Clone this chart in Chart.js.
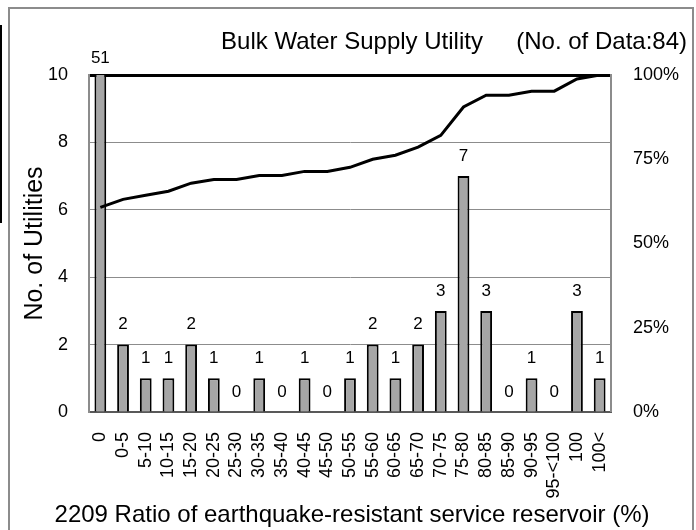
<!DOCTYPE html>
<html>
<head>
<meta charset="utf-8">
<script src="https://cdn.jsdelivr.net/npm/chart.js@4.4.1/dist/chart.umd.min.js"></script>
<style>
  body { margin: 0; background: #fff; }
  #wrap { position: relative; width: 696px; height: 530px; overflow: hidden; }
  #frame { position: absolute; left: 8px; top: 7px; width: 682px; height: 560px; border: 2px solid #8c8c8c; }
  #edge { position: absolute; left: 0; top: 25px; width: 2px; height: 198px; background: #000; }
  canvas { position: absolute; left: 0; top: 0; }
</style>
</head>
<body>
<div id="wrap">
  <div id="edge"></div>
  <div id="frame"></div>
  <canvas id="chart" width="696" height="530"></canvas>
</div>
<script>
// Ratio classes (%) and number of utilities in each
const categories = ['0', '0-5', '5-10', '10-15', '15-20', '20-25', '25-30', '30-35', '35-40', '40-45',
  '45-50', '50-55', '55-60', '60-65', '65-70', '70-75', '75-80', '80-85', '85-90', '90-95',
  '95-<100', '100', '100<'];
const utilityCounts = [51, 2, 1, 1, 2, 1, 0, 1, 0, 1, 0, 1, 2, 1, 2, 3, 7, 3, 0, 1, 0, 3, 1];
// cumulative share (%)
const cumulativePercent = [60.7, 63.1, 64.3, 65.5, 67.9, 69.0, 69.0, 70.2, 70.2, 71.4, 71.4, 72.6,
  75.0, 76.2, 78.6, 82.1, 90.5, 94.0, 94.0, 95.2, 95.2, 98.8, 100];
const countTicks = [0, 2, 4, 6, 8, 10];
const percentTicks = [0, 25, 50, 75, 100];
const xTitle = '2209 Ratio of earthquake-resistant service reservoir (%)';

const FONT = '"Liberation Sans", Arial, sans-serif';

// numbers above the bars (the 51 bar is cut off at the top),
// plus the x title, which is wider than the plot and must not be squeezed
const barLabels = {
  id: 'barLabels',
  afterDatasetsDraw(chart) {
    const { ctx, chartArea } = chart;
    const meta = chart.getDatasetMeta(1);
    ctx.save();
    ctx.font = '17px ' + FONT;
    ctx.fillStyle = '#000';
    ctx.textAlign = 'center';
    ctx.textBaseline = 'middle';
    meta.data.forEach((bar, i) => {
      const clipped = bar.y < chartArea.top;
      const top = clipped ? chartArea.top + 3 : bar.y;
      ctx.fillText(String(utilityCounts[i]), bar.x, top - 20);
    });
    ctx.font = '24px ' + FONT;
    const xs = chart.scales.x;
    ctx.fillText(xTitle, (xs.left + xs.right) / 2 + 2, xs.bottom - 15);
    ctx.restore();
  }
};

new Chart(document.getElementById('chart'), {
  data: {
    labels: categories,
    datasets: [
      {
        type: 'line',
        data: cumulativePercent,
        yAxisID: 'y2',
        borderColor: '#000',
        borderWidth: 3,
        pointRadius: 0,
        tension: 0,
        order: 0
      },
      {
        type: 'bar',
        data: utilityCounts,
        yAxisID: 'y',
        backgroundColor: '#a6a6a6',
        borderColor: '#000',
        borderWidth: 2,
        categoryPercentage: 1,
        barPercentage: 0.52,
        order: 1
      }
    ]
  },
  options: {
    responsive: false,
    animation: false,
    devicePixelRatio: 1,
    layout: { padding: { left: 0, right: 9, top: 0, bottom: 0 } },
    plugins: {
      legend: { display: false },
      tooltip: { enabled: false },
      title: {
        display: true,
        text: 'Bulk Water Supply Utility     (No. of Data:84)',
        align: 'end',
        color: '#000',
        font: { family: FONT, size: 24, weight: 'normal' },
        padding: { top: 28, bottom: 18.2 }
      }
    },
    scales: {
      x: {
        grid: { display: false, drawTicks: false },
        border: { color: '#595959', width: 2 },
        ticks: {
          autoSkip: false,
          maxRotation: 90,
          minRotation: 90,
          padding: 20,
          color: '#000',
          font: { family: FONT, size: 18 }
        },
        title: { display: false },
        afterFit: s => { s.height = 118; }
      },
      y: {
        position: 'left',
        min: 0,
        max: 10,
        afterBuildTicks: s => { s.ticks = countTicks.map(v => ({ value: v })); },
        grid: {
          drawTicks: false,
          color: c => (c.tick.value === 0 || c.tick.value === 10) ? 'rgba(0,0,0,0)' : '#8c8c8c',
          lineWidth: 1
        },
        border: { color: '#8c8c8c', width: 2 },
        ticks: { padding: 21, color: '#000', font: { family: FONT, size: 18 } },
        title: {
          display: true,
          text: 'No. of Utilities',
          color: '#000',
          font: { family: FONT, size: 25 },
          padding: { top: 20, bottom: 0 }
        },
        afterFit: s => { s.width = 89; }
      },
      y2: {
        position: 'right',
        min: 0,
        max: 100,
        z: 1,
        afterBuildTicks: s => { s.ticks = percentTicks.map(v => ({ value: v })); },
        grid: {
          drawTicks: false,
          color: c => c.tick.value === 100 ? '#000' : 'rgba(0,0,0,0)',
          lineWidth: c => c.tick.value === 100 ? 3 : 0
        },
        border: { color: '#8c8c8c', width: 2 },
        ticks: {
          padding: 22,
          color: '#000',
          font: { family: FONT, size: 18 },
          callback: v => v + '%'
        },
        afterFit: s => { s.width = 76; }
      }
    }
  },
  plugins: [barLabels]
});
</script>
</body>
</html>
